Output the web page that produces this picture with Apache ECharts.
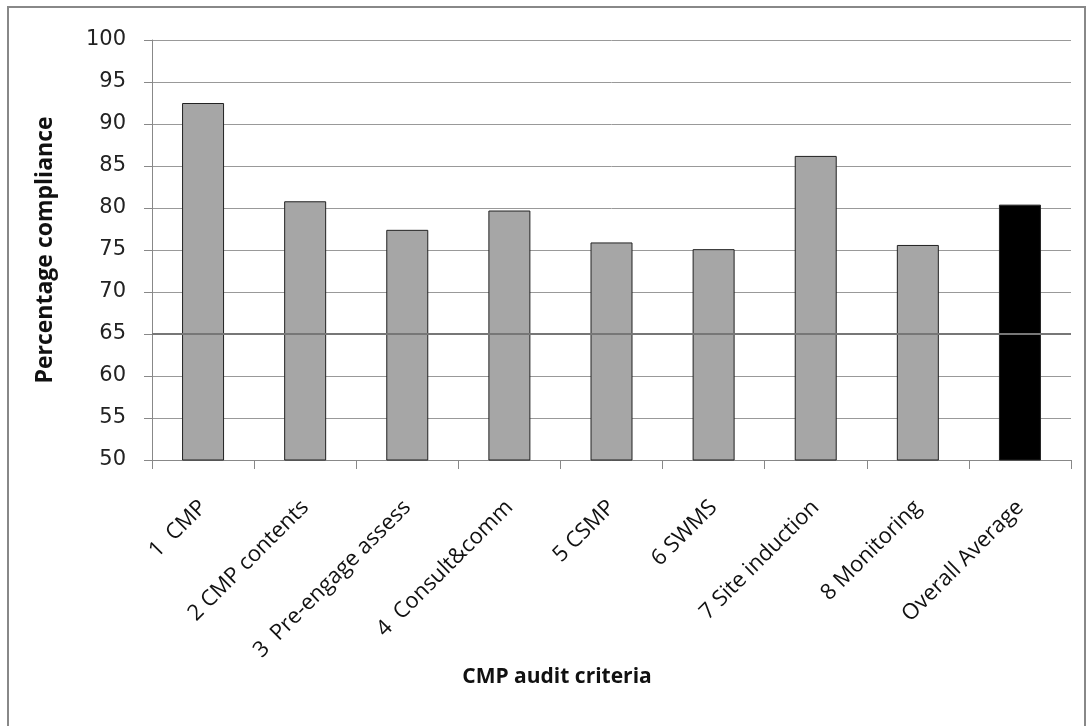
<!DOCTYPE html>
<html>
<head>
<meta charset="utf-8">
<script src="https://cdn.jsdelivr.net/npm/echarts@6/dist/echarts.min.js"></script>
<style>html,body{margin:0;padding:0;background:#fff}#c{width:1092px;height:726px}</style>
</head>
<body>
<div id="c"></div>
<script>
const categories = ['1  CMP', '2 CMP contents', '3  Pre-engage assess', '4  Consult&comm', '5 CSMP', '6 SWMS', '7 Site induction', '8 Monitoring', 'Overall Average'];
const values = [92.5, 80.8, 77.4, 79.7, 75.9, 75.1, 86.2, 75.6, 80.4];
const yTicks = { min: 50, max: 100, interval: 5 };
const yTitle = 'Percentage compliance';
const xTitle = 'CMP audit criteria';

const chart = echarts.init(document.getElementById('c'));
const lastIdx = values.length - 1;
chart.setOption({
  animation: false,
  grid: { left: 152, right: 21, top: 40, bottom: 266 },
  graphic: [
    { type: 'rect', shape: { x: 8, y: 7, width: 1077, height: 730 }, style: { fill: 'none', stroke: '#888', lineWidth: 2 }, silent: true },
    { type: 'text', x: 557, y: 677, style: { text: xTitle, font: 'bold 21px "Open Sans"', fill: '#111', align: 'center', verticalAlign: 'middle' }, silent: true }
  ],
  xAxis: {
    type: 'category',
    data: categories,
    axisLine: { lineStyle: { color: '#888', width: 1 } },
    axisTick: { show: true, length: 9, lineStyle: { color: '#888' } },
    axisLabel: { rotate: 45, fontFamily: 'Open Sans', fontSize: 22, color: '#111', margin: 44, interval: 0 }
  },
  yAxis: {
    type: 'value',
    min: yTicks.min, max: yTicks.max, interval: yTicks.interval,
    name: yTitle, nameLocation: 'middle', nameGap: 95, nameRotate: 90,
    nameTextStyle: { fontFamily: 'Open Sans', fontWeight: 'bold', fontSize: 23, color: '#111' },
    axisLine: { show: true, lineStyle: { color: '#888' } },
    axisTick: { show: true, length: 8, lineStyle: { color: '#888' } },
    axisLabel: { fontFamily: 'DejaVu Sans', fontSize: 21, color: '#222', margin: 26 },
    splitLine: { lineStyle: { color: '#999', width: 1 } }
  },
  series: [{
    type: 'bar',
    barWidth: 42,
    data: values.map((v, i) => ({
      value: v,
      itemStyle: { color: i === lastIdx ? '#000' : '#a6a6a6', borderColor: '#222', borderWidth: 1 }
    })),
    markLine: {
      silent: true, symbol: 'none', label: { show: false },
      lineStyle: { color: '#777', width: 2, type: 'solid' },
      data: [{ yAxis: 65 }]
    },
    z: 3
  }]
});
</script>
</body>
</html>
